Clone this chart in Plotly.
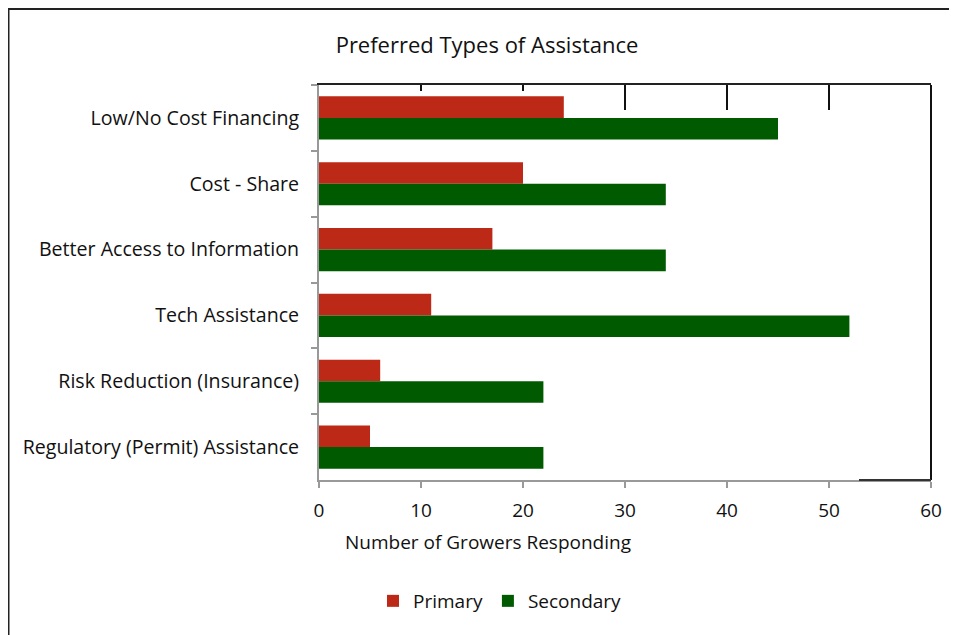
import plotly.graph_objects as go

categories = ["Low/No Cost Financing", "Cost - Share", "Better Access to Information",
              "Tech Assistance", "Risk Reduction (Insurance)", "Regulatory (Permit) Assistance"]
primary = [24, 20, 17, 11, 6, 5]
secondary = [45, 34, 34, 52, 22, 22]
x_ticks = [0, 10, 20, 30, 40, 50, 60]

RED = "#BC2916"
GREEN = "#005A00"
FONT = "Open Sans"

OFF = 8  # page body margin offset
W, H = 957 - OFF, 635 - OFF
L, R, T, B = 319 - OFF, 931 - OFF, 85 - OFF, 480 - OFF
pw, ph = R - L, B - T

def px_x(px):
    return (px - OFF - L) / pw

def px_y(py):
    return (B - (py - OFF)) / ph

fig = go.Figure()
fig.add_trace(go.Bar(y=categories, x=primary, name="Primary", orientation="h",
                     marker=dict(color=RED, line=dict(width=0))))
fig.add_trace(go.Bar(y=categories, x=secondary, name="Secondary", orientation="h",
                     marker=dict(color=GREEN, line=dict(width=0))))

fig.update_layout(
    width=W, height=H,
    margin=dict(l=L, r=W - R, t=T, b=H - B),
    paper_bgcolor="white", plot_bgcolor="white",
    barmode="group", bargap=0.345, bargroupgap=0,
    font=dict(family=FONT, size=19, color="#111"),
    title=dict(text="Preferred Types of Assistance", x=(487 - OFF) / W, xref="container",
               xanchor="center", y=1 - (45 - OFF) / H, yref="container", yanchor="middle",
               font=dict(size=22, family=FONT, color="#111")),
    xaxis=dict(range=[0, 60], tickvals=x_ticks, ticks="outside", ticklen=6,
               tickcolor="#999", tickwidth=2, showline=True, linecolor="#999", linewidth=2,
               showgrid=False, zeroline=False, ticklabelstandoff=6,
               tickfont=dict(size=19)),
    xaxis2=dict(range=[0, 60], overlaying="x", side="top", tickvals=[10, 20, 30, 40, 50],
                ticks="inside", ticklen=6, tickcolor="#111", tickwidth=2,
                showline=True, linecolor="#222", linewidth=2, showticklabels=False,
                showgrid=False, zeroline=False),
    yaxis=dict(autorange="reversed", ticks="outside", tickson="boundaries", ticklen=6,
               tickcolor="#999", tickwidth=2, showline=True, linecolor="#999", linewidth=2,
               showgrid=False, ticklabelstandoff=14, tickfont=dict(size=19.6)),
    legend=dict(orientation="h", x=(500 - OFF) / W, xref="container", xanchor="center",
                y=1 - (601 - OFF) / H, yref="container", yanchor="middle",
                font=dict(size=19), itemwidth=30, traceorder="normal"),
    showlegend=True,
    annotations=[dict(text="Number of Growers Responding", xref="paper", yref="paper",
                      x=px_x(488), y=px_y(542), xanchor="center", yanchor="middle",
                      showarrow=False, font=dict(size=19, family=FONT, color="#111"))],
)

fig.add_trace(go.Scatter(x=[0], y=[categories[0]], xaxis="x2", mode="markers",
                         marker=dict(opacity=0), showlegend=False, hoverinfo="skip"))

shapes = []
shapes.append(dict(type="line", xref="paper", yref="paper", x0=1, x1=1, y0=0, y1=1,
                   line=dict(color="#111", width=2)))
for v in [30, 40, 50]:
    shapes.append(dict(type="line", xref="x", yref="paper", x0=v, x1=v, y0=1,
                       y1=px_y(110), line=dict(color="#111", width=2)))
shapes.append(dict(type="line", xref="paper", yref="paper", x0=px_x(859), x1=1, y0=0, y1=0,
                   line=dict(color="#333", width=2)))
shapes.append(dict(type="rect", xref="paper", yref="paper", x0=px_x(8.5), x1=px_x(965),
                   y0=px_y(645), y1=px_y(9), line=dict(color="#222", width=2),
                   fillcolor="rgba(0,0,0,0)", layer="below"))
fig.update_layout(shapes=shapes)

fig.write_html("out.html")
